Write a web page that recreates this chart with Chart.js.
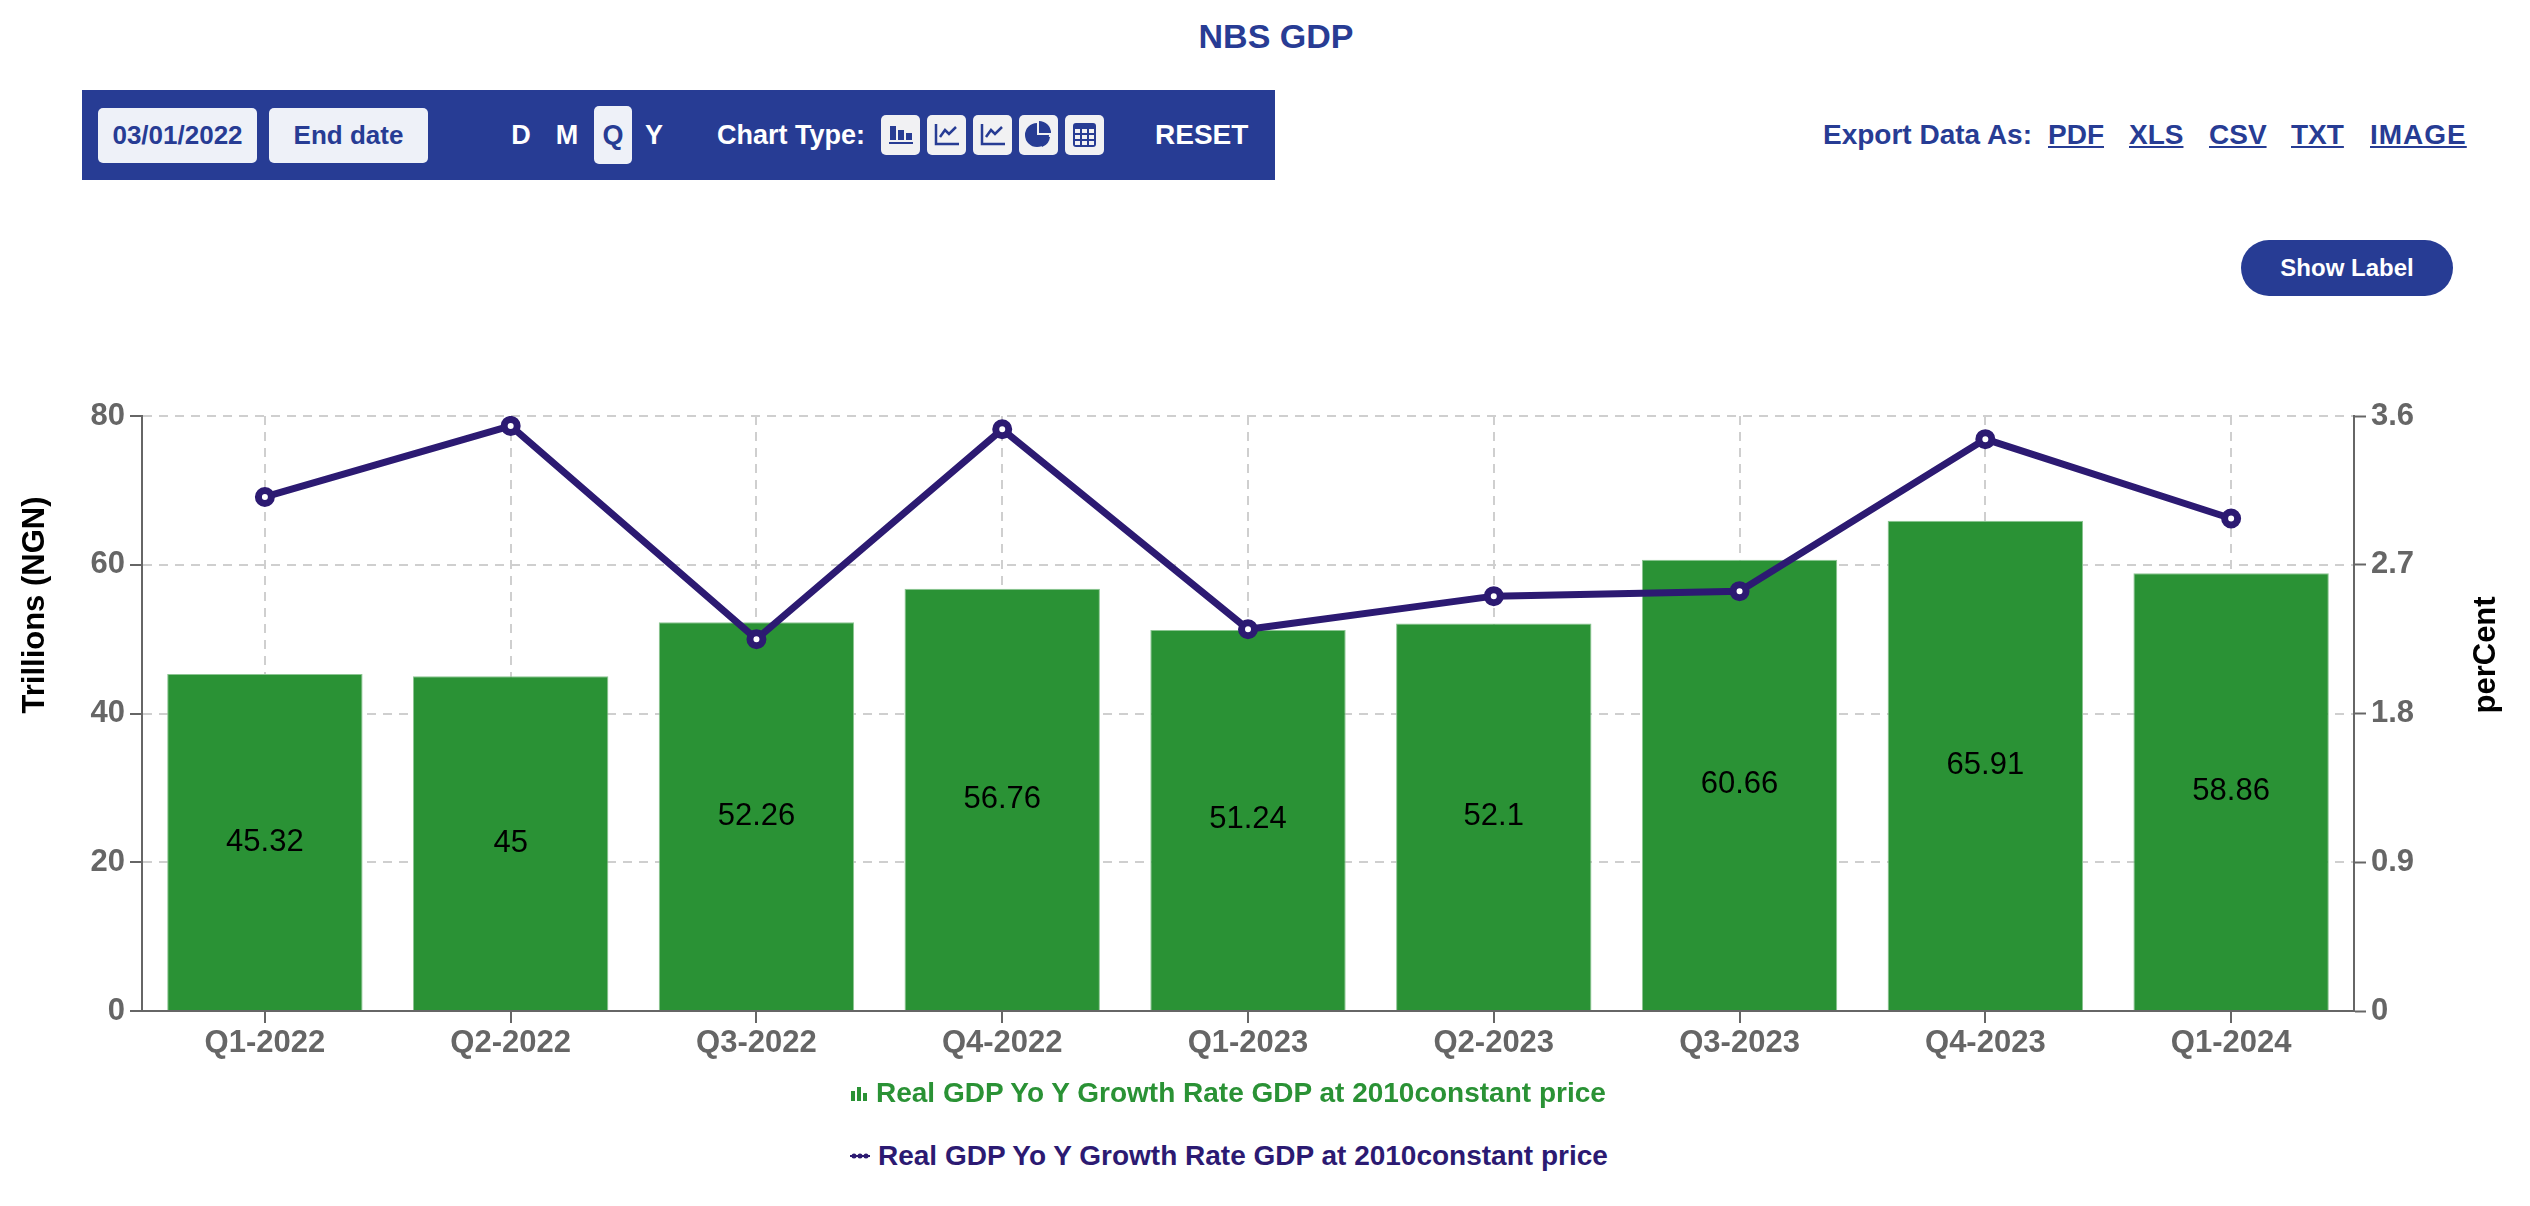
<!DOCTYPE html>
<html>
<head>
<meta charset="utf-8">
<title>NBS GDP</title>
<script src="https://cdn.jsdelivr.net/npm/chart.js@4.4.1/dist/chart.umd.min.js"></script>
<style>
  body { margin: 0; width: 2530px; height: 1206px; position: relative; overflow: hidden; background: #fff;
         font-family: "Liberation Sans", Arial, sans-serif; font-weight: bold; }
  #title { position: absolute; left: 1276px; top: 16px; transform: translateX(-50%); font-size: 34px; line-height: 40px; color: #283c94; }
  #toolbar { position: absolute; left: 82px; top: 90px; width: 1193px; height: 90px; background: #273c94; color: #fff; }
  #toolbar .btn { position: absolute; top: 18px; height: 55px; width: 159px; background: #eef1f8; border-radius: 5px;
                  color: #273c94; font-size: 26px; line-height: 55px; text-align: center; }
  #toolbar .per { position: absolute; top: 27px; font-size: 27px; line-height: 36px; transform: translateX(-50%); }
  #toolbar .qbox { position: absolute; left: 512px; top: 16px; width: 38px; height: 58px; background: #eef1f8; border-radius: 5px; }
  #toolbar .lbl { position: absolute; top: 27px; font-size: 27px; line-height: 36px; }
  #toolbar .ico { position: absolute; top: 25px; width: 39px; height: 40px; background: #f1f1f3; border-radius: 5px; }
  #toolbar .ico svg { width: 39px; height: 40px; display: block; }
  .exp { position: absolute; top: 117px; font-size: 28px; line-height: 36px; color: #273c94; white-space: nowrap; }
  a.exp { text-decoration: underline; }
  #showLabel { position: absolute; left: 2241px; top: 240px; width: 212px; height: 56px; border-radius: 28px; background: #273c94;
               color: #fff; font-size: 24px; line-height: 56px; text-align: center; }
  #chartBox { position: absolute; left: 0; top: 380px; width: 2530px; height: 700px; }
  .legendRow { position: absolute; left: 850px; height: 36px; font-size: 28px; line-height: 36px; white-space: nowrap; }
  .legendRow svg { display: inline-block; vertical-align: middle; margin-right: 8px; position: relative; top: -2px; }
</style>
</head>
<body>
<div id="title">NBS GDP</div>

<div id="toolbar">
  <div class="btn" style="left:16px">03/01/2022</div>
  <div class="btn" style="left:187px">End date</div>
  <div class="qbox"></div>
  <div class="per" style="left:439px">D</div>
  <div class="per" style="left:485px">M</div>
  <div class="per" style="left:531px; color:#273c94">Q</div>
  <div class="per" style="left:572px">Y</div>
  <div class="lbl" style="left:635px">Chart Type:</div>
  <div class="ico" style="left:799px"><svg viewBox="0 0 39 40"><rect x="9" y="11" width="6" height="14" fill="#273c94"/><rect x="17" y="15" width="6" height="10" fill="#273c94"/><rect x="25" y="18" width="6" height="7" fill="#273c94"/><rect x="8" y="27" width="24" height="2" fill="#273c94"/></svg></div>
  <div class="ico" style="left:845px"><svg viewBox="0 0 39 40"><path d="M9 9 V29 H32" fill="none" stroke="#273c94" stroke-width="2.5"/><path d="M13 22 L18 15 L22 19 L29 12" fill="none" stroke="#273c94" stroke-width="2.5"/></svg></div>
  <div class="ico" style="left:891px"><svg viewBox="0 0 39 40"><path d="M9 9 V29 H32" fill="none" stroke="#273c94" stroke-width="2.5"/><path d="M13 22 L18 15 L22 19 L29 12" fill="none" stroke="#273c94" stroke-width="2.5"/></svg></div>
  <div class="ico" style="left:937px"><svg viewBox="0 0 39 40"><path d="M18 8 A12 12 0 1 0 30 20 H18 Z" fill="#273c94"/><path d="M20 6 A12 12 0 0 1 32 18 H20 Z" fill="#273c94"/><path d="M21 21 L23 32 A12 12 0 0 0 31 22 Z" fill="#273c94"/></svg></div>
  <div class="ico" style="left:983px"><svg viewBox="0 0 39 40"><rect x="8" y="8" width="23" height="24" rx="3" fill="#273c94"/><g fill="#f1f1f3"><rect x="10" y="14" width="5" height="4"/><rect x="17" y="14" width="5" height="4"/><rect x="24" y="14" width="5" height="4"/><rect x="10" y="20" width="5" height="4"/><rect x="17" y="20" width="5" height="4"/><rect x="24" y="20" width="5" height="4"/><rect x="10" y="26" width="5" height="4"/><rect x="17" y="26" width="5" height="4"/><rect x="24" y="26" width="5" height="4"/></g></svg></div>
  <div class="lbl" style="left:1073px; font-size:28px">RESET</div>
</div>

<div class="exp" style="left:1823px">Export Data As:</div>
<a class="exp" style="left:2048px">PDF</a>
<a class="exp" style="left:2129px">XLS</a>
<a class="exp" style="left:2209px">CSV</a>
<a class="exp" style="left:2291px">TXT</a>
<a class="exp" style="left:2370px; letter-spacing:1px">IMAGE</a>
<div id="showLabel">Show Label</div>

<div id="chartBox"><canvas id="gdpChart"></canvas></div>

<div class="legendRow" id="legendBar" style="top:1075px; color:#2a9235"></div>
<div class="legendRow" id="legendLine" style="top:1138px; color:#2c1a72"></div>

<script>
const quarters = ['Q1-2022', 'Q2-2022', 'Q3-2022', 'Q4-2022', 'Q1-2023', 'Q2-2023', 'Q3-2023', 'Q4-2023', 'Q1-2024'];
const gdpTrillions = [45.32, 45, 52.26, 56.76, 51.24, 52.1, 60.66, 65.91, 58.86];
const growthPercent = [3.11, 3.54, 2.25, 3.52, 2.31, 2.51, 2.54, 3.46, 2.98];
const leftTicks = [0, 20, 40, 60, 80];
const rightTicks = [0, 0.9, 1.8, 2.7, 3.6];
const seriesName = 'Real GDP Yo Y Growth Rate GDP at 2010constant price';

const GREEN = '#2a9235';
const PURPLE = '#2c1a72';
const FONT = "'Liberation Sans', Arial, sans-serif";

Chart.defaults.font.family = FONT;

// legend is plain html, stacked like the original page
document.getElementById('legendBar').innerHTML =
  '<svg width="18" height="16"><rect x="1" y="6" width="4" height="10" fill="' + GREEN + '"/><rect x="7" y="2" width="4" height="14" fill="' + GREEN + '"/><rect x="13" y="8" width="4" height="8" fill="' + GREEN + '"/></svg>' + seriesName;
document.getElementById('legendLine').innerHTML =
  '<svg width="20" height="10"><line x1="0" y1="5" x2="20" y2="5" stroke="' + PURPLE + '" stroke-width="2"/><circle cx="4" cy="5" r="2.5" fill="' + PURPLE + '"/><circle cx="10" cy="5" r="2.5" fill="' + PURPLE + '"/><circle cx="16" cy="5" r="2.5" fill="' + PURPLE + '"/></svg>' + seriesName;

// value labels in the middle of each bar
const barLabels = {
  id: 'barLabels',
  afterDatasetDraw(chart, args) {
    if (args.index !== 0) return;
    const ctx = chart.ctx;
    ctx.save();
    ctx.font = '31px ' + FONT;
    ctx.fillStyle = '#000';
    ctx.textAlign = 'center';
    ctx.textBaseline = 'middle';
    args.meta.data.forEach((bar, i) => {
      ctx.fillText(String(gdpTrillions[i]), bar.x, (bar.y + bar.base) / 2);
    });
    ctx.restore();
  }
};

// axis titles start at the middle of the axis, reading upwards
const axisTitles = {
  id: 'axisTitles',
  afterDraw(chart) {
    const ctx = chart.ctx;
    const midY = (chart.chartArea.top + chart.chartArea.bottom) / 2;
    ctx.save();
    ctx.font = 'bold 31px ' + FONT;
    ctx.fillStyle = '#000';
    ctx.textAlign = 'left';
    ctx.textBaseline = 'alphabetic';
    [[44, 'Trillions (NGN)'], [2495, 'perCent']].forEach(([x, text]) => {
      ctx.save();
      ctx.translate(x, midY);
      ctx.rotate(-Math.PI / 2);
      ctx.fillText(text, 0, 0);
      ctx.restore();
    });
    ctx.restore();
  }
};

const tickFont = { size: 31, weight: 'bold' };

const ctx = document.getElementById('gdpChart').getContext('2d');
const gdpChart = new Chart(ctx, {
  data: {
    labels: quarters,
    datasets: [
      {
        type: 'bar',
        label: seriesName,
        data: gdpTrillions,
        yAxisID: 'y',
        backgroundColor: GREEN,
        borderColor: '#8cc592',
        borderWidth: 1,
        categoryPercentage: 1,
        barPercentage: 0.795,
        order: 2
      },
      {
        type: 'line',
        label: seriesName,
        data: growthPercent,
        yAxisID: 'y1',
        borderColor: PURPLE,
        borderWidth: 7,
        tension: 0,
        pointRadius: 6.5,
        pointBorderWidth: 7,
        pointBackgroundColor: '#fff',
        pointBorderColor: PURPLE,
        order: 1
      }
    ]
  },
  options: {
    responsive: true,
    maintainAspectRatio: false,
    animation: false,
    layout: { padding: { top: 36, left: 0, right: 0, bottom: 0 } },
    plugins: {
      legend: { display: false },
      tooltip: { enabled: false }
    },
    scales: {
      x: {
        offset: true,
        grid: { color: '#cfcfcf', lineWidth: 2, offset: false, tickLength: 12, tickColor: '#666', tickWidth: 2 },
        border: { color: '#666', width: 2, dash: [9, 7] },
        ticks: { color: '#666', font: tickFont, padding: 2, maxRotation: 0, autoSkip: false },
        afterFit: (s) => { s.height = 69; }
      },
      y: {
        position: 'left',
        min: 0,
        max: 80,
        grid: { color: '#cfcfcf', lineWidth: 2, tickLength: 12, tickColor: '#666', tickWidth: 2 },
        border: { color: '#666', width: 2, dash: [9, 7] },
        ticks: { color: '#666', font: tickFont, padding: 5 },
        afterBuildTicks: (s) => { s.ticks = leftTicks.map((v) => ({ value: v })); },
        afterFit: (s) => { s.width = 142; }
      },
      y1: {
        position: 'right',
        min: 0,
        max: 3.6,
        grid: { drawOnChartArea: false, tickLength: 12, tickColor: '#666', tickWidth: 2 },
        border: { color: '#666', width: 2 },
        ticks: { color: '#666', font: tickFont, padding: 5, callback: (v) => String(v) },
        afterBuildTicks: (s) => { s.ticks = rightTicks.map((v) => ({ value: v })); },
        afterFit: (s) => { s.width = 176; }
      }
    }
  },
  plugins: [barLabels, axisTitles]
});
</script>
</body>
</html>
